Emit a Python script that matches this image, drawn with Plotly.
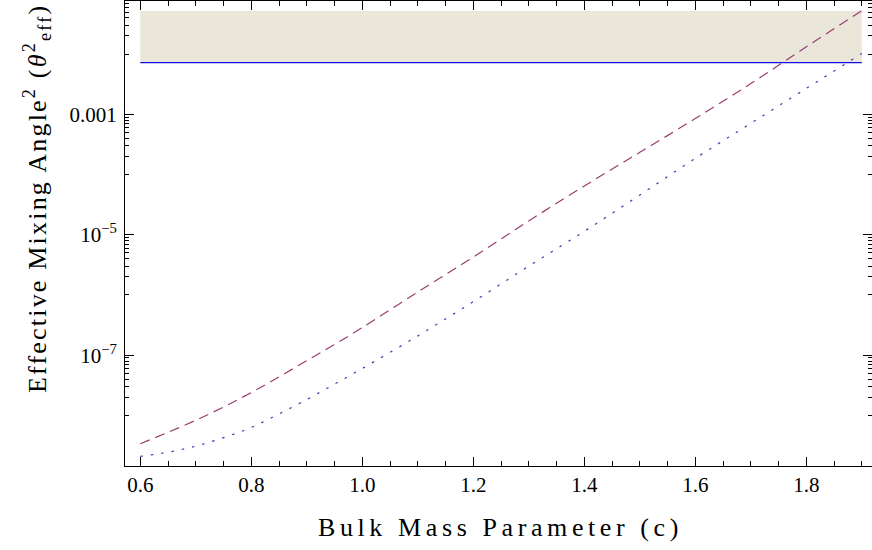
import plotly.graph_objects as go

# Bulk mass parameter values (x)
c_vals = [0.6, 0.65, 0.7, 0.75, 0.8, 0.85, 0.9, 0.95, 1.0, 1.1, 1.2, 1.3, 1.4, 1.5, 1.6, 1.7, 1.8, 1.9]

# Effective mixing angle^2 — dashed (purple) curve
theta_dashed = [3.39e-9, 5.25e-9, 8.32e-9, 1.38e-8, 2.40e-8, 4.37e-8, 8.13e-8, 1.51e-7, 2.88e-7,
                1.12e-6, 4.27e-6, 1.70e-5, 6.46e-5, 2.34e-4, 8.51e-4, 3.24e-3, 1.32e-2, 5.25e-2]

# Effective mixing angle^2 — dotted (blue) curve
theta_dotted = [2.09e-9, 2.45e-9, 3.09e-9, 4.27e-9, 6.31e-9, 1.06e-8, 1.84e-8, 3.31e-8, 6.03e-8,
                2.09e-7, 7.76e-7, 3.02e-6, 1.14e-5, 4.57e-5, 1.86e-4, 7.08e-4, 2.69e-3, 1.02e-2]

# Excluded band
band_x = [0.6, 1.9]
band_lo = 0.0072
band_hi = 0.052

# Ticks
x_ticks = [0.6, 0.8, 1.0, 1.2, 1.4, 1.6, 1.8]
x_ticktext = ["0.6", "0.8", "1.0", "1.2", "1.4", "1.6", "1.8"]
y_ticks = [1e-7, 1e-5, 1e-3]
y_ticktext = ["10<sup>\u22127</sup>", "10<sup>\u22125</sup>", "0.001"]
y_minor = [k * 10.0 ** e for e in (-8, -6, -4, -2) for k in range(1, 10)]

SERIF = "Liberation Serif, Times New Roman, serif"

fig = go.Figure()

fig.add_trace(go.Scatter(
    x=[band_x[0], band_x[1], band_x[1], band_x[0]],
    y=[band_lo, band_lo, band_hi, band_hi],
    fill="toself", fillcolor="#EAE6D9", mode="lines",
    line=dict(width=0), hoverinfo="skip", showlegend=False))

fig.add_trace(go.Scatter(
    x=band_x, y=[band_lo, band_lo], mode="lines",
    line=dict(color="#1010E0", width=1.3), showlegend=False))

fig.add_trace(go.Scatter(
    x=c_vals, y=theta_dashed, mode="lines",
    line=dict(color="rgb(153,61,113)", width=1.2, dash="10px,6px", shape="spline"),
    showlegend=False))

fig.add_trace(go.Scatter(
    x=c_vals, y=theta_dotted, mode="lines",
    line=dict(color="rgb(61,61,170)", width=1.2, dash="2.5px,8px", shape="spline"),
    showlegend=False))

fig.update_layout(
    width=872, height=550,
    margin=dict(l=125, r=0, t=1, b=84),
    paper_bgcolor="white", plot_bgcolor="white",
    font=dict(family=SERIF, color="black", size=21),
    xaxis=dict(
        range=[0.5724, 1.9184], showgrid=False, zeroline=False,
        showline=True, linecolor="black", linewidth=1, mirror="allticks",
        ticks="inside", ticklen=9, tickwidth=1, tickcolor="black",
        tickvals=x_ticks, ticktext=x_ticktext,
        tickfont=dict(family=SERIF, size=21), ticklabelstandoff=0,
        minor=dict(dtick=0.05, tick0=0.6, ticks="inside", ticklen=5, tickcolor="black", showgrid=False),
    ),
    yaxis=dict(
        type="log", range=[-8.84, -1.118], showgrid=False, zeroline=False,
        showline=True, linecolor="black", linewidth=1, mirror="allticks",
        ticks="inside", ticklen=9, tickwidth=1, tickcolor="black",
        tickvals=y_ticks, ticktext=y_ticktext,
        tickfont=dict(family=SERIF, size=21), ticklabelstandoff=3,
        minor=dict(tickvals=y_minor, ticks="inside", ticklen=4, tickcolor="black", showgrid=False),
    ),
    annotations=[
        dict(text='<span style="letter-spacing:4.6px">Bulk Mass Parameter (c)</span>',
             xref="paper", yref="paper", x=0.503, y=-0.133,
             xanchor="center", yanchor="middle", showarrow=False,
             font=dict(family=SERIF, size=26, color="black")),
        dict(text='<span style="letter-spacing:2.2px">Effective Mixing Angle<sup>2</sup> (<i>\u03b8</i><sup>2</sup><sub>eff</sub>)</span>',
             xref="paper", yref="paper", x=-0.118, y=0.576,
             xanchor="center", yanchor="middle", showarrow=False, textangle=-90,
             font=dict(family=SERIF, size=26, color="black")),
    ],
)

fig.write_html("out.html", config={"displayModeBar": False},
               post_script="document.body.style.margin='0';")
